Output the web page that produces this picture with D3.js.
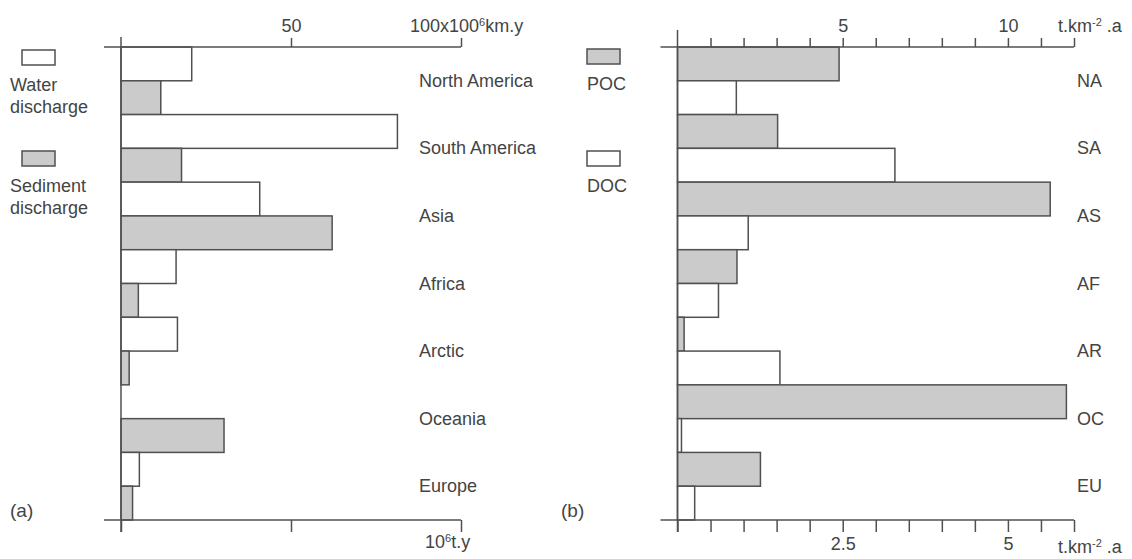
<!DOCTYPE html>
<html>
<head>
<meta charset="utf-8">
<script src="https://cdn.jsdelivr.net/npm/d3@7"></script>
<style>
    body { margin: 0; background: #fff; }
    text { font-family: "Liberation Sans", Arial, sans-serif; fill: #444; }
    .bar { stroke: #505050; stroke-width: 1.5; }
    .axisLine { stroke: #505050; stroke-width: 1.5; }
</style>
</head>
<body>
<svg id="chart" width="1132" height="559"></svg>
<script>
//panel (a) data
let regionsA = ["North America", "South America", "Asia", "Africa", "Arctic", "Oceania", "Europe"];
let waterDischarge = [20.8, 81.3, 40.8, 16.2, 16.6, 0, 5.4];
let sedimentDischarge = [11.7, 17.8, 62.1, 5.1, 2.4, 30.3, 3.4];

//panel (b) data
let regionsB = ["NA", "SA", "AS", "AF", "AR", "OC", "EU"];
let poc = [4.89, 3.03, 11.28, 1.80, 0.20, 11.77, 2.51];
let doc = [0.89, 3.29, 1.07, 0.62, 1.55, 0.06, 0.26];

let topTicksA = [50, 100];
let bottomTicksA = [0, 50, 100];
let topTicksB = d3.range(1, 13);
let bottomTicksB = d3.range(0.5, 6.01, 0.5).concat([0]);

let svg = d3.select("#chart");
let plotTop = 47, plotBottom = 520;
let fontSize = "18px";

//draws one panel: two bar series per category
function drawPanel(opt) {
    let g = svg.append("g");
    let y = d3.scaleBand().domain(opt.cats).range([plotTop, plotBottom]);
    let sub = d3.scaleBand().domain([0, 1]).range([0, y.bandwidth()]);

    let rows = [];
    opt.cats.forEach(function (c, i) {
        opt.series.forEach(function (s, k) {
            rows.push({cat: c, slot: k, value: s.values[i], scale: s.scale, fill: s.fill});
        });
    });

    g.selectAll("rect.bar")
        .data(rows.filter(function (d) { return d.value > 0; }))
        .enter()
        .append("rect")
        .attr("class", "bar")
        .attr("x", function (d) { return d.scale(0); })
        .attr("y", function (d) { return y(d.cat) + sub(d.slot); })
        .attr("width", function (d) { return d.scale(d.value) - d.scale(0); })
        .attr("height", sub.bandwidth())
        .attr("fill", function (d) { return d.fill; });

    //category labels sit on the line between the two bars
    g.selectAll("text.cat")
        .data(opt.cats)
        .enter()
        .append("text")
        .attr("class", "cat")
        .attr("x", opt.labelX)
        .attr("y", function (d) { return y(d) + y.bandwidth() / 2 + 6; })
        .style("font-size", fontSize)
        .text(function (d) { return d; });

    //axes
    let x0 = opt.topScale(0);
    let xEnd = opt.topScale.range()[1];
    g.append("line").attr("class", "axisLine")
        .attr("x1", x0).attr("x2", x0).attr("y1", opt.axisTop).attr("y2", plotBottom + 12);
    g.append("line").attr("class", "axisLine")
        .attr("x1", x0 - 17).attr("x2", xEnd).attr("y1", plotTop).attr("y2", plotTop);
    g.append("line").attr("class", "axisLine")
        .attr("x1", x0 - 17).attr("x2", xEnd).attr("y1", plotBottom).attr("y2", plotBottom);

    let topAxis = d3.axisTop(opt.topScale)
        .tickValues(opt.topTicks)
        .tickSize(9)
        .tickFormat(function (d) { return opt.topLabels.indexOf(d) >= 0 ? d : ""; });
    let ta = g.append("g").attr("transform", "translate(0," + plotTop + ")").call(topAxis);

    let bottomAxis = d3.axisBottom(opt.bottomScale)
        .tickValues(opt.bottomTicks)
        .tickSize(12)
        .tickFormat(function (d) { return opt.bottomLabels.indexOf(d) >= 0 ? d : ""; });
    let ba = g.append("g").attr("transform", "translate(0," + plotBottom + ")").call(bottomAxis);

    [ta, ba].forEach(function (a) {
        a.select(".domain").remove();
        a.selectAll(".tick line").attr("stroke", "#505050").attr("stroke-width", 1.5);
        a.selectAll(".tick text")
            .style("font-size", fontSize)
            .attr("fill", "#444")
            .style("font-family", "'Liberation Sans', Arial, sans-serif");
    });
    ta.selectAll(".tick text").attr("y", -15);
    ba.selectAll(".tick text").attr("y", 17);

    //legend
    opt.legend.forEach(function (l) {
        g.append("rect").attr("class", "bar")
            .attr("x", l.x).attr("y", l.y).attr("width", 33).attr("height", 15)
            .attr("fill", l.fill);
        l.lines.forEach(function (t, j) {
            g.append("text").attr("x", l.tx).attr("y", l.y + 41 + j * 22)
                .style("font-size", fontSize).text(t);
        });
    });

    g.append("text").attr("x", opt.tagX).attr("y", 517)
        .style("font-size", "19px").text(opt.tag);
    return g;
}

//unit label with a superscript part
function unitLabel(g, x, y, before, sup, after) {
    let t = g.append("text").attr("x", x).attr("y", y).style("font-size", fontSize);
    t.append("tspan").text(before);
    t.append("tspan").attr("dy", -6).style("font-size", "11px").text(sup);
    t.append("tspan").attr("dy", 6).text(after);
}

let grey = "#cbcbcb";

//panel (a)
let xA = d3.scaleLinear().domain([0, 100]).range([121, 461]);
let gA = drawPanel({
    cats: regionsA,
    series: [
        {values: waterDischarge, scale: xA, fill: "#fff"},
        {values: sedimentDischarge, scale: xA, fill: grey}
    ],
    labelX: 419,
    topScale: xA, bottomScale: xA,
    topTicks: topTicksA, topLabels: [50],
    bottomTicks: bottomTicksA, bottomLabels: [],
    axisTop: 37,
    legend: [
        {x: 22, y: 50, fill: "#fff", tx: 10, lines: ["Water", "discharge"]},
        {x: 22, y: 151, fill: grey, tx: 10, lines: ["Sediment", "discharge"]}
    ],
    tag: "(a)", tagX: 10
});
unitLabel(gA, 410, 32, "100x100", "6", "km.y");
unitLabel(gA, 425, 548, "10", "6", "t.y");

//panel (b)
let xBtop = d3.scaleLinear().domain([0, 12]).range([677.5, 1074]);
let xBbottom = d3.scaleLinear().domain([0, 6]).range([677.5, 1074]);
let gB = drawPanel({
    cats: regionsB,
    series: [
        {values: poc, scale: xBtop, fill: grey},
        {values: doc, scale: xBbottom, fill: "#fff"}
    ],
    labelX: 1077,
    topScale: xBtop, bottomScale: xBbottom,
    topTicks: topTicksB, topLabels: [5, 10],
    bottomTicks: bottomTicksB, bottomLabels: [2.5, 5],
    axisTop: 30,
    legend: [
        {x: 587, y: 49, fill: grey, tx: 587, lines: ["POC"]},
        {x: 587, y: 151, fill: "#fff", tx: 587, lines: ["DOC"]}
    ],
    tag: "(b)", tagX: 561
});
unitLabel(gB, 1058, 32, "t.km", "-2", " .a");
unitLabel(gB, 1058, 553, "t.km", "-2", " .a");
</script>
</body>
</html>
